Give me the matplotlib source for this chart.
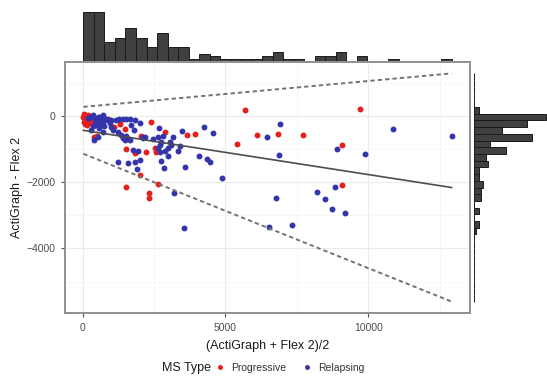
import numpy as np
import matplotlib.pyplot as plt
from matplotlib.lines import Line2D

plt.rcParams['font.family'] = ['Liberation Sans', 'DejaVu Sans']

# Progressive MS (red)
prog_x = [60, 120, 150, 200, 60, 270, 150, 80, 290, 410, 30, 180, 240, 100, 330,
          390, 505, 765, 880, 1115, 1470, 1610, 1530, 2405, 2875, 2055, 2210, 1820,
          2550, 2580, 2640, 2000, 1530, 2315, 2315, 3640, 3930, 5400, 5695, 6105,
          6845, 7715, 9720, 9075, 9075, 1300, 450, 560, 220]
prog_y = [50, -30, -80, -130, -180, -210, -280, -110, -80, -230, -20, 20, -160, -250, -150,
          -650, -610, -110, -80, -330, -380, -710, -1010, -180, -480, -610, -1080, -1110,
          -980, -1080, -2040, -1790, -2140, -2320, -2490, -580, -550, -850, 170, -580,
          -550, -580, 220, -890, -2090, -250, -120, -20, -60]

# Relapsing MS (blue)
rel_x = [355, 590, 470, 355, 705, 820, 880, 1000, 1175, 1290, 1410, 1530, 1055, 1235,
         1350, 1470, 410, 530, 2000, 1800, 2665, 2115, 2170, 2640, 2760, 3055, 3110,
         2995, 2700, 2640, 2760, 2855, 3345, 3465, 4250, 4555, 4085, 4370, 4460, 3580,
         4875, 3205, 1235, 1585, 1845, 2000, 1890, 1760, 1940, 1530, 1410, 1645, 3555,
         6460, 6905, 6870, 6750, 6525, 7335, 8885, 9885, 10855, 12910, 8215, 8485,
         8720, 9180, 8815,
         200, 250, 430, 640, 720, 420, 720, 560, 300, 650, 1010, 950, 1660, 1830, 1700,
         2110, 2450, 2700, 2900, 2800, 3000, 3150, 3400, 480, 610, 700, 740]
rel_y = [20, -30, -180, -310, -180, -80, -130, -330, -130, -80, -80, -80, -430, -480,
         -580, -730, -730, -630, -210, -410, -360, -650, -650, -630, -780, -780, -880,
         -980, -880, -980, -1360, -1565, -1050, -450, -330, -510, -1215, -1285, -1385, -1535,
         -1885, -2320, -1395, -1415, -1385, -1335, -1615, -1015, -1055, -610, -680, -730, -3385,
         -630, -250, -1165, -2470, -3350, -3290, -1010, -1135, -390, -610, -2290, -2500,
         -2800, -2940, -2150,
         -50, -20, -100, -130, 20, -280, -480, -350, -420, -250, -130, -220, -80, -130, -280,
         -680, -700, -1100, -1050, -600, -1200, -650, -900, -60, -200, -90, -300]

# regression-based bias and limits of agreement
bias_intercept = -431
bias_slope = -0.1339
loa_intercept = 702
loa_slope = 0.2123

x_ticks = [0, 5000, 10000]
y_ticks = [0, -2000, -4000]

all_x = np.array(prog_x + rel_x)
all_y = np.array(prog_y + rel_y)
xl = np.array([all_x.min(), all_x.max()])
mean_l = bias_intercept + bias_slope * xl
half = loa_intercept + loa_slope * xl
upper_l = mean_l + half
lower_l = mean_l - half

xr = xl[1] - xl[0]
xlim = (xl[0] - 0.05 * xr, xl[1] + 0.05 * xr)
ylo, yhi = lower_l[1], upper_l[1]
yr = yhi - ylo
ylim = (ylo - 0.05 * yr, yhi + 0.05 * yr)

RED = '#e5201c'
BLUE = '#3434ad'

W, H = 547, 376
fig = plt.figure(figsize=(W / 100, H / 100), dpi=100)
ax = fig.add_axes([65 / W, 1 - 313 / H, 405 / W, 251 / H])
axt = fig.add_axes([65 / W, 1 - 61 / H, 405 / W, 51 / H])
axr = fig.add_axes([474 / W, 1 - 313 / H, 73 / W, 251 / H])

# main panel
ax.scatter(prog_x, prog_y, s=18, color=RED, linewidths=0, zorder=3)
ax.scatter(rel_x, rel_y, s=18, color=BLUE, linewidths=0, zorder=3)
ax.plot(xl, mean_l, color='#4d4d4d', lw=1.2, zorder=4)
ax.plot(xl, upper_l, color='#737373', lw=1.4, dashes=(2.2, 1.6), zorder=4)
ax.plot(xl, lower_l, color='#737373', lw=1.4, dashes=(2.2, 1.6), zorder=4)

ax.set_xlim(xlim)
ax.set_ylim(ylim)
ax.set_xticks(x_ticks)
ax.set_yticks(y_ticks)
ax.set_xticks([2500, 7500, 12500], minor=True)
ax.set_yticks([1000, -1000, -3000, -5000], minor=True)
ax.grid(True, which='major', color='#ebebeb', lw=0.8)
ax.grid(True, which='minor', color='#f4f4f4', lw=0.5)
ax.set_axisbelow(True)
ax.tick_params(which='major', length=3, width=0.8, color='#555555',
               labelsize=7.5, labelcolor='#4d4d4d', pad=4)
ax.tick_params(which='minor', length=0)
for s in ax.spines.values():
    s.set_color('#8f8f8f')
    s.set_linewidth(1.4)
ax.set_xlabel('(ActiGraph + Flex 2)/2', fontsize=9, color='#1a1a1a', labelpad=5.5)
ax.set_ylabel('ActiGraph - Flex 2', fontsize=9, color='#1a1a1a', labelpad=2)

# marginal histograms
cx, ex = np.histogram(all_x, bins=35, range=(xl[0], xl[1]))
axt.bar(ex[:-1], cx, width=np.diff(ex), align='edge', color='#404040',
        edgecolor='#1a1a1a', linewidth=0.7)
axt.set_xlim(xlim)
axt.set_ylim(0, cx.max() * 1.04)
axt.axis('off')

cy, ey = np.histogram(all_y, bins=34, range=(ylo, yhi))
axr.barh(ey[:-1], cy, height=np.diff(ey), align='edge', color='#404040',
         edgecolor='#1a1a1a', linewidth=0.7)
axr.set_ylim(ylim)
axr.set_xlim(0, cy.max() * 1.02)
axr.axis('off')

# legend
fig.text(0.385, 1 - 368 / H, 'MS Type', fontsize=9, color='#1a1a1a',
         ha='right', va='center')
handles = [Line2D([], [], marker='o', ls='None', ms=2.5, color=RED),
           Line2D([], [], marker='o', ls='None', ms=2.5, color=BLUE)]
fig.legend(handles, ['Progressive', 'Relapsing'], ncol=2, loc='center left',
           bbox_to_anchor=(0.39, 1 - 368 / H), frameon=False, fontsize=7.5,
           handlelength=1.2, handletextpad=0.5, columnspacing=1.4,
           borderaxespad=0, borderpad=0, labelcolor='#333333')

fig.savefig('out.png', dpi=100)
